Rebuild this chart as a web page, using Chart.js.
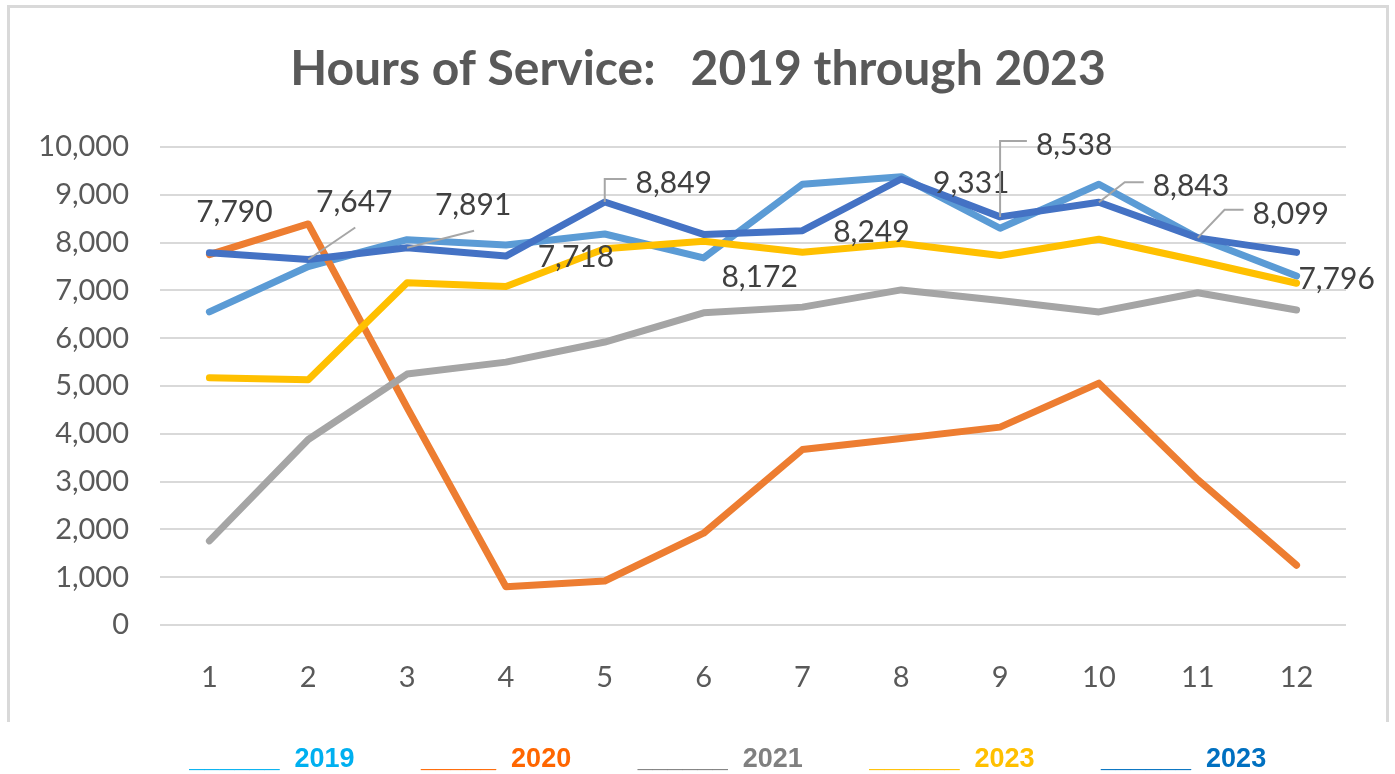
<!DOCTYPE html>
<html>
<head>
<meta charset="utf-8">
<script src="https://cdn.jsdelivr.net/npm/chart.js@4.4.1/dist/chart.umd.min.js"></script>
<style>
  body { margin: 0; background: #fff; }
  canvas { display: block; }
</style>
</head>
<body>
<canvas id="myChart" width="1395" height="774"></canvas>
<script>
var months = ["1", "2", "3", "4", "5", "6", "7", "8", "9", "10", "11", "12"];
var hours2019 = [6550, 7500, 8060, 7950, 8180, 7680, 9220, 9380, 8300, 9220, 8100, 7300];
var hours2020 = [7750, 8390, 4550, 800, 920, 1920, 3670, 3900, 4140, 5060, 3040, 1250];
var hours2021 = [1760, 3880, 5250, 5500, 5920, 6530, 6650, 7010, 6790, 6550, 6950, 6590];
var hours2023y = [5170, 5130, 7160, 7080, 7870, 8030, 7800, 7980, 7730, 8070, 7620, 7150];
var hours2023 = [7790, 7647, 7891, 7718, 8849, 8172, 8249, 9331, 8538, 8843, 8099, 7796];
var yTicks = [0, 1000, 2000, 3000, 4000, 5000, 6000, 7000, 8000, 9000, 10000];

// where the data labels of the last series sit, relative to their point
var labelDx = [25, 46, 66, 70, 69, 56, 69, 70, 74, 92, 93, 40];
var labelDy = [-40, -57, -42, 1, -19, 43, 2, 4, -72, -16, -24, 27];
var leader = ["", "diag", "diag", "", "elbow", "", "", "", "elbow", "elbow", "elbow", ""];

var font = "Lato";

var frame = {
  id: "frame",
  beforeDraw: function (chart) {
    var c = chart.ctx;
    c.save();
    c.fillStyle = "#fff";
    c.fillRect(0, 0, chart.width, chart.height);
    c.strokeStyle = "#d9d9d9";
    c.lineWidth = 3;
    c.beginPath();
    c.moveTo(8.5, 722);
    c.lineTo(8.5, 6.5);
    c.lineTo(1387.5, 6.5);
    c.lineTo(1387.5, 722);
    c.stroke();
    c.restore();
  },
  afterLayout: function (chart) {
    // title and legend are not centred on the same spot in the original
    chart.titleBlock.left += 25;
    chart.titleBlock.right += 25;
    chart.legend.left += 48;
    chart.legend.right += 48;
  }
};

var valueLabels = {
  id: "valueLabels",
  afterDatasetsDraw: function (chart) {
    var c = chart.ctx;
    var meta = chart.getDatasetMeta(4);
    var ds = chart.data.datasets[4];
    c.save();
    c.font = "30px " + font;
    c.textAlign = "center";
    c.textBaseline = "middle";
    meta.data.forEach(function (pt, i) {
      var txt = ds.data[i].toLocaleString("en-US");
      var cx = pt.x + labelDx[i];
      var cy = pt.y + labelDy[i];
      var left = cx - c.measureText(txt).width / 2;
      c.strokeStyle = "#a6a6a6";
      c.lineWidth = 2;
      if (leader[i] == "diag") {
        c.beginPath();
        c.moveTo(pt.x, pt.y);
        c.lineTo(cx + 1, cy + 25);
        c.stroke();
      } else if (leader[i] == "elbow") {
        var kx = left - 28;
        if (Math.abs(kx - pt.x) < 8) kx = pt.x;
        c.beginPath();
        c.moveTo(pt.x, pt.y);
        c.lineTo(kx, cy - 4);
        c.lineTo(left - 9, cy - 4);
        c.stroke();
      }
      c.fillStyle = "#404040";
      c.fillText(txt, cx, cy);
    });
    c.restore();
  }
};

function line(label, data, color, order) {
  return {
    label: label,
    data: data,
    borderColor: color,
    backgroundColor: color,
    borderWidth: 7,
    borderCapStyle: "round",
    borderJoinStyle: "round",
    pointRadius: 0,
    pointHoverRadius: 0,
    tension: 0,
    fill: false,
    order: order
  };
}

var legendColors = ["#00b0f0", "#ff6600", "#808080", "#ffc000", "#0070c0"];
var legendBars = ["______", "_____", "______", "______", "______"];

var ctx = document.getElementById("myChart").getContext("2d");
var myChart = new Chart(ctx, {
  type: "line",
  data: {
    labels: months,
    datasets: [
      line("2019", hours2019, "#5b9bd5", 5),
      line("2020", hours2020, "#ed7d31", 4),
      line("2021", hours2021, "#a5a5a5", 3),
      line("2023", hours2023y, "#ffc000", 2),
      line("2023", hours2023, "#4472c4", 1)
    ]
  },
  options: {
    responsive: false,
    animation: false,
    devicePixelRatio: 1,
    layout: { padding: { left: 0, right: 49, top: 0, bottom: -9.5 } },
    plugins: {
      title: {
        display: true,
        text: "Hours of Service:   2019 through 2023",
        color: "#595959",
        font: { family: font, size: 48, weight: "bold" },
        padding: { top: 41, bottom: 48.4 }
      },
      legend: {
        display: true,
        position: "bottom",
        labels: {
          padding: 53,
          boxWidth: 0,
          font: { family: "Liberation Sans", size: 27, weight: "bold" },
          generateLabels: function (chart) {
            return chart.data.datasets.map(function (d, i) {
              return {
                text: legendBars[i] + "  " + d.label,
                fontColor: legendColors[i],
                fillStyle: "rgba(0,0,0,0)",
                strokeStyle: "rgba(0,0,0,0)",
                lineWidth: 0,
                datasetIndex: i
              };
            });
          }
        }
      },
      tooltip: { enabled: false }
    },
    scales: {
      x: {
        offset: true,
        grid: { display: false },
        border: { display: false },
        ticks: { color: "#595959", font: { family: font, size: 29 }, padding: 27, maxRotation: 0 },
        afterFit: function (s) { s.height = 68.5; }
      },
      y: {
        min: 0,
        max: 10000,
        grid: { color: "#d9d9d9", lineWidth: 2, drawTicks: false },
        border: { display: false },
        ticks: {
          stepSize: 1000,
          color: "#595959",
          font: { family: font, size: 29 },
          padding: 31,
          callback: function (value) {
            return yTicks.indexOf(value) >= 0 ? value.toLocaleString("en-US") : "";
          }
        },
        afterFit: function (s) { s.width = 160; }
      }
    }
  },
  plugins: [frame, valueLabels]
});
</script>
</body>
</html>
